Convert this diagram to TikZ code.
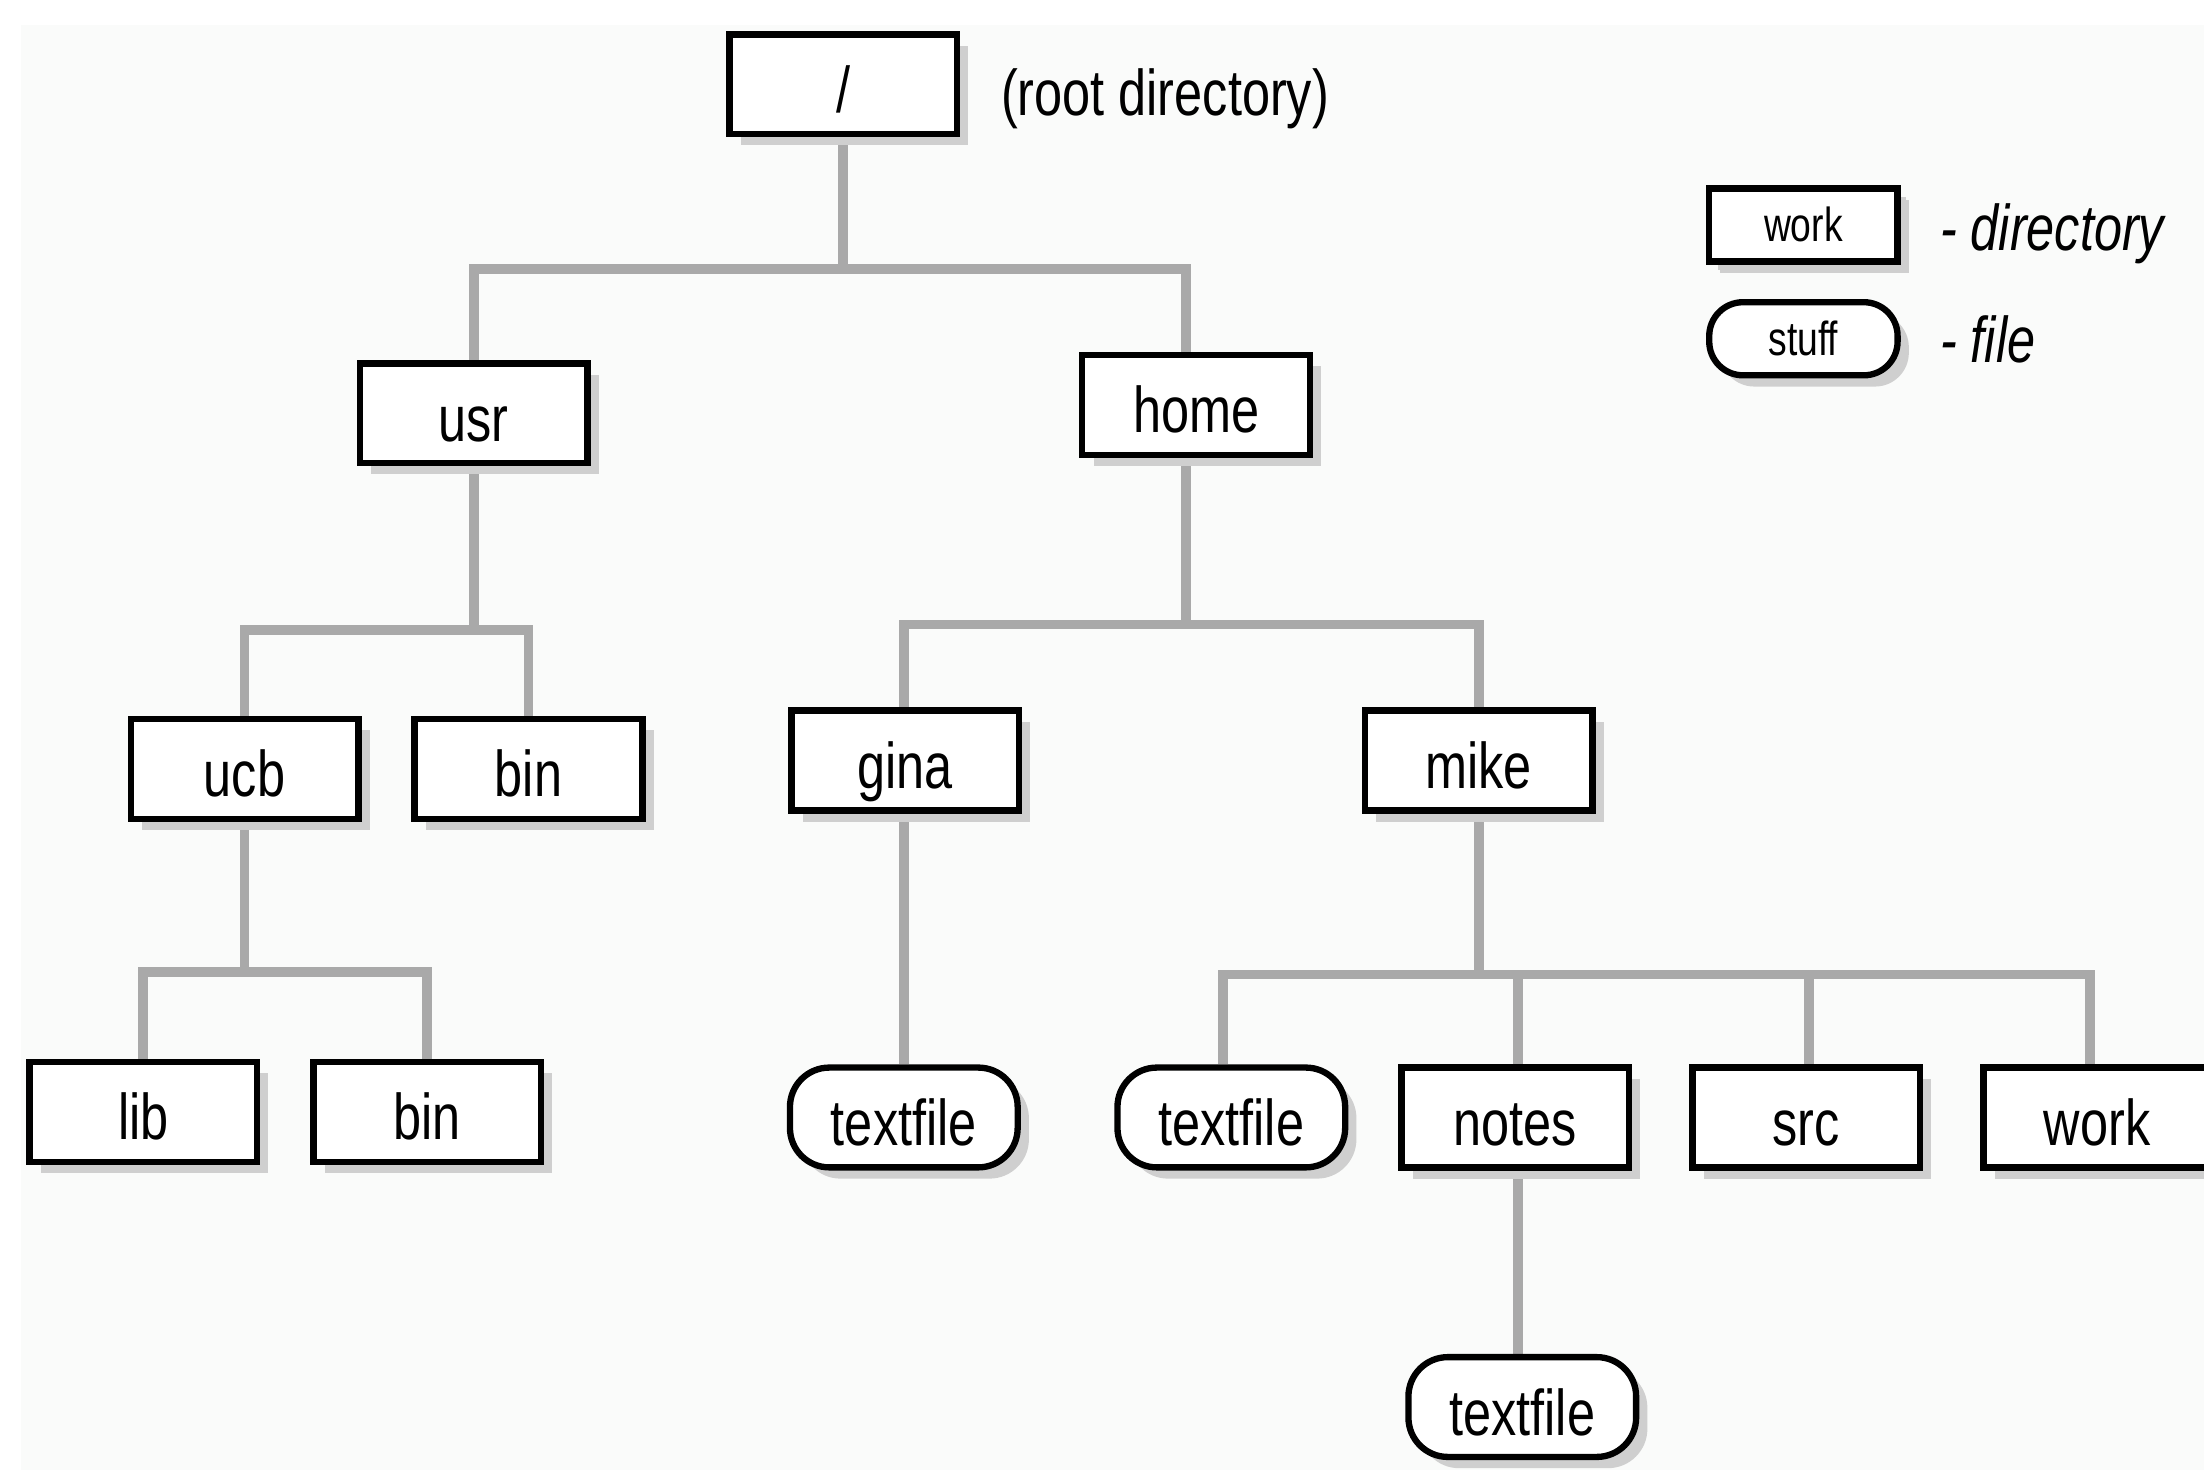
\documentclass[tikz,border=0pt]{standalone}
\usepackage{fontspec}
\setmainfont{Liberation Sans}[FakeStretch=0.78]
\usetikzlibrary{shadows,backgrounds}
\definecolor{bgc}{HTML}{FAFBFA}
\definecolor{conc}{HTML}{A9A9A9}
\definecolor{shc}{HTML}{CFCFCF}
\begin{document}
\begin{tikzpicture}[x=1pt,y=-1pt,
  dir/.style={draw=black, line width=4.5pt, fill=white, minimum width=162pt,
    minimum height=71pt, inner sep=0pt, text height=42pt, text depth=2pt,
    font=\fontsize{46}{50}\selectfont,
    drop shadow={shadow xshift=8pt, shadow yshift=-8pt, fill=shc, opacity=1}},
  file/.style={dir, rounded corners=28pt},
  legdir/.style={dir, minimum width=134pt, minimum height=52pt, text height=26pt, text depth=2pt,
    font=\fontsize{34}{38}\selectfont,
    drop shadow={shadow xshift=6pt, shadow yshift=-6pt, fill=shc, opacity=1}},
  legfile/.style={legdir, rounded corners=24pt},
  lbl/.style={anchor=base west, inner sep=0pt, font=\fontsize{46}{50}\selectfont},
  conn/.style={draw=conc, line width=7pt}]
\useasboundingbox (0,0) rectangle (1568,1046);
\begin{scope}[on background layer]
  \fill[white] (0,0) rectangle (1568,1046);
  \fill[bgc] (15,18) rectangle (1568,1046);
\end{scope}

% nodes
\node[dir] (root) at (600,60) {/};
\node[lbl] (rootlbl) at (712,82) {(root directory)};
\node[dir] (usr) at (337,294) {usr};
\node[dir] (home) at (851,288) {home};
\node[dir] (ucb) at (174,547) {ucb};
\node[dir] (binA) at (376,547) {bin};
\node[dir] (gina) at (644,541) {gina};
\node[dir] (mike) at (1052,541) {mike};
\node[dir] (lib) at (102,791) {lib};
\node[dir] (binB) at (304,791) {bin};
\node[file] (tfa) at (643,795) {textfile};
\node[file] (tfb) at (876,795) {textfile};
\node[dir] (notes) at (1078,795) {notes};
\node[dir] (src) at (1285,795) {src};
\node[dir] (work) at (1492,795) {work};
\node[file] (tfc) at (1083,1001) {textfile};

% legend
\node[legdir] (legdir) at (1283,160) {work};
\node[legfile] (legfile) at (1283,241) {stuff};
\node[lbl] (legdirlbl) at (1380,178) {\itshape - directory};
\node[lbl] (legfilelbl) at (1380,258) {\itshape - file};

% connectors
\begin{scope}[on background layer]
  \draw[conn] (root.south) -- ++(0,93.5) -| (usr.north);
  \draw[conn] (root.south) -- ++(0,93.5) -| ([xshift=-7pt]home.north);
  \draw[conn] (usr.south) -- ++(0,116.5) -| (ucb.north);
  \draw[conn] (usr.south) -- ++(0,116.5) -| (binA.north);
  \draw[conn] ([xshift=-7pt]home.south) -- ++(0,118.5) -| ([xshift=-1pt]gina.north);
  \draw[conn] ([xshift=-7pt]home.south) -- ++(0,118.5) -| (mike.north);
  \draw[conn] (ucb.south) -- ++(0,106.5) -| (lib.north);
  \draw[conn] (ucb.south) -- ++(0,106.5) -| (binB.north);
  \draw[conn] ([xshift=-1pt]gina.south) -- ([xshift=-1pt]gina.south |- tfa.north);
  \draw[conn] (mike.south) -- ++(0,114.5) -| ([xshift=-6pt]tfb.north);
  \draw[conn] (mike.south) -- ++(0,114.5) -| ([xshift=2pt]notes.north);
  \draw[conn] (mike.south) -- ++(0,114.5) -| ([xshift=2pt]src.north);
  \draw[conn] (mike.south) -- ++(0,114.5) -| ([xshift=-5pt]work.north);
  \draw[conn] ([xshift=2pt]notes.south) -- ([xshift=2pt]notes.south |- tfc.north);
\end{scope}
\end{tikzpicture}
\end{document}
